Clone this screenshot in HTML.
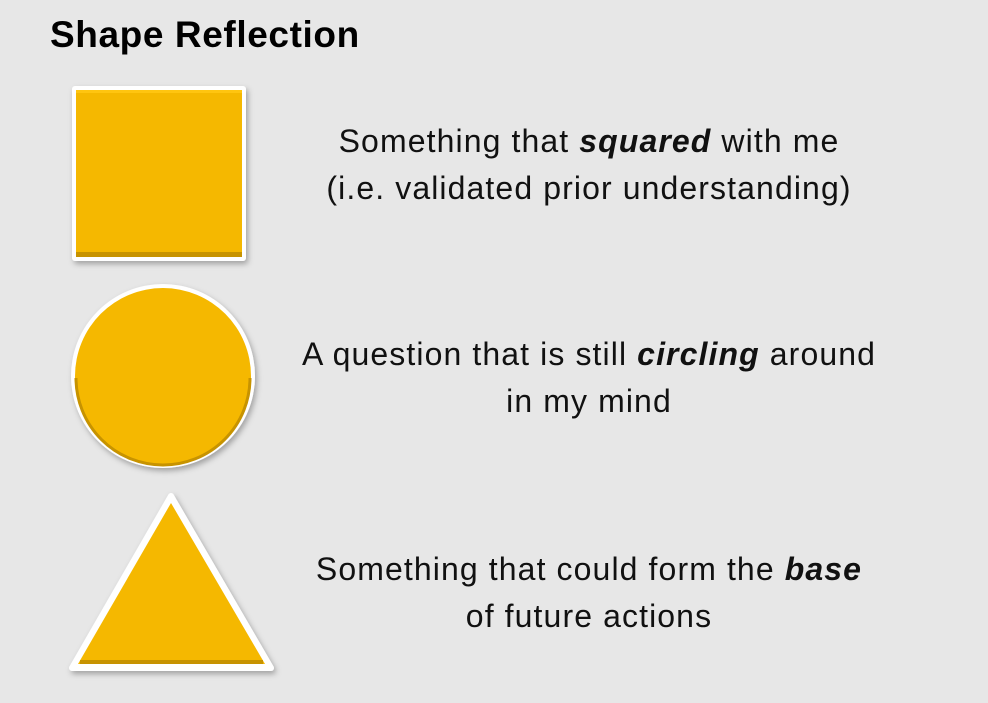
<!DOCTYPE html>
<html><head><style>
body{margin:0;width:988px;height:703px;background:#e7e7e7;overflow:hidden;font-family:"Liberation Sans",sans-serif;position:relative}
.t{position:absolute;left:50px;top:14px;font-size:37px;font-weight:bold;color:#000;letter-spacing:0.6px}
.p{position:absolute;width:800px;left:189px;text-align:center;font-size:32px;line-height:47px;color:#111;letter-spacing:1.1px}
</style></head><body>
<div class="t">Shape Reflection</div>
<svg width="988" height="703" style="position:absolute;left:0;top:0">
<defs>
<filter id="s" x="-20%" y="-20%" width="140%" height="140%"><feDropShadow dx="2" dy="3" stdDeviation="3" flood-color="#000" flood-opacity="0.3"/></filter>
</defs>
<rect x="72" y="86" width="174" height="175" rx="3" fill="#fff" filter="url(#s)"/>
<rect x="76" y="90" width="166" height="167" fill="#f5b800"/>
<rect x="76" y="252" width="166" height="5" fill="#c79300"/>
<rect x="76" y="90" width="166" height="3" fill="#ffc510"/>
<circle cx="163" cy="376" r="92" fill="#fff" filter="url(#s)"/>
<circle cx="163" cy="376" r="88" fill="#f5b800"/>
<path d="M76,378 A87,87 0 0,0 250,378" fill="none" stroke="#c79300" stroke-width="3"/>
<polygon points="171,496 271,668 72,668" fill="#fff" stroke="#fff" stroke-width="6" stroke-linejoin="round" filter="url(#s)"/>
<polygon points="171,503 265,664 78,664" fill="#f5b800"/>
<rect x="80" y="660" width="183" height="4" fill="#c79300"/>
</svg>
<div class="p" style="top:118px">Something that <b><i>squared</i></b> with me<br>(i.e. validated prior understanding)</div>
<div class="p" style="top:331px">A question that is still <b><i>circling</i></b> around<br>in my mind</div>
<div class="p" style="top:546px">Something that could form the <b><i>base</i></b><br>of future actions</div>
</body></html>
